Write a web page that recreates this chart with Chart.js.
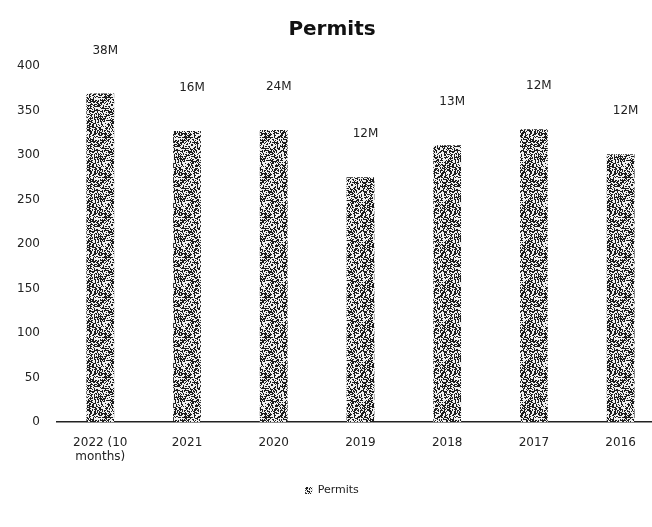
<!DOCTYPE html>
<html>
<head>
<meta charset="utf-8">
<script src="https://cdn.jsdelivr.net/npm/chart.js@4/dist/chart.umd.min.js"></script>
<style>
  html, body { margin: 0; padding: 0; background: #fff; overflow: hidden; }
  #wrap { width: 668px; height: 527px; }
</style>
</head>
<body>
<div id="wrap"><canvas id="permitChart" width="668" height="527"></canvas></div>
<script>
// chart data
const categories = [['2022 (10', 'months)'], '2021', '2020', '2019', '2018', '2017', '2016'];
const permits = [369, 327, 328, 275, 311, 329, 301];
const valueLabels = ['38M', '16M', '24M', '12M', '13M', '12M', '12M'];
const yTicks = [0, 50, 100, 150, 200, 250, 300, 350, 400];

const FONT = "'DejaVu Sans', sans-serif";

// speckled grey fill like the scanned original
function speckle() {
  const c = document.createElement('canvas');
  c.width = 40; c.height = 40;
  const g = c.getContext('2d');
  const img = g.createImageData(40, 40);
  for (let y = 0; y < 40; y++) {
    for (let x = 0; x < 40; x++) {
      let h = (x * 374761393 + y * 668265263) | 0;
      h = Math.imul(h ^ (h >>> 13), 1274126177);
      h = (h ^ (h >>> 16)) >>> 0;
      const v = (h % 100) < 48 ? 30 : 240;
      const i = (y * 40 + x) * 4;
      img.data[i] = img.data[i + 1] = img.data[i + 2] = v;
      img.data[i + 3] = 255;
    }
  }
  g.putImageData(img, 0, 0);
  return g.createPattern(c, 'repeat');
}

const barLabels = {
  id: 'barLabels',
  afterDatasetsDraw(chart) {
    const ctx = chart.ctx;
    const meta = chart.getDatasetMeta(0);
    ctx.save();
    ctx.font = '12px ' + FONT;
    ctx.fillStyle = '#222';
    ctx.textAlign = 'center';
    ctx.textBaseline = 'middle';
    meta.data.forEach((bar, i) => {
      ctx.fillText(valueLabels[i], bar.x + 5, bar.y - 43);
    });
    ctx.restore();
  }
};

const ctx = document.getElementById('permitChart').getContext('2d');

new Chart(ctx, {
  type: 'bar',
  data: {
    labels: categories,
    datasets: [{
      label: 'Permits',
      data: permits,
      backgroundColor: speckle(),
      borderWidth: 0,
      barPercentage: 0.32,
      categoryPercentage: 1
    }]
  },
  options: {
    responsive: false,
    animation: false,
    layout: { padding: { left: 0, right: 4, top: 0, bottom: 21 } },
    scales: {
      x: {
        grid: { display: false, drawTicks: false },
        border: { display: true, color: '#222', width: 1.5 },
        ticks: { color: '#222', font: { family: FONT, size: 12 }, maxRotation: 0, padding: 13 }
      },
      y: {
        min: 0,
        max: 400,
        afterBuildTicks(axis) { axis.ticks = yTicks.map(v => ({ value: v })); },
        grid: { display: false, drawTicks: false },
        border: { display: false },
        ticks: { color: '#222', font: { family: FONT, size: 12 }, padding: 17 }
      }
    },
    plugins: {
      title: {
        display: true,
        text: 'Permits',
        color: '#111',
        font: { family: FONT, size: 20, weight: 'bold' },
        padding: { top: 18, bottom: 24 }
      },
      legend: {
        position: 'bottom',
        labels: {
          color: '#222',
          font: { family: FONT, size: 11 },
          boxWidth: 7,
          boxHeight: 7,
          padding: 8
        }
      },
      tooltip: { enabled: false }
    }
  },
  plugins: [barLabels]
});
</script>
</body>
</html>
